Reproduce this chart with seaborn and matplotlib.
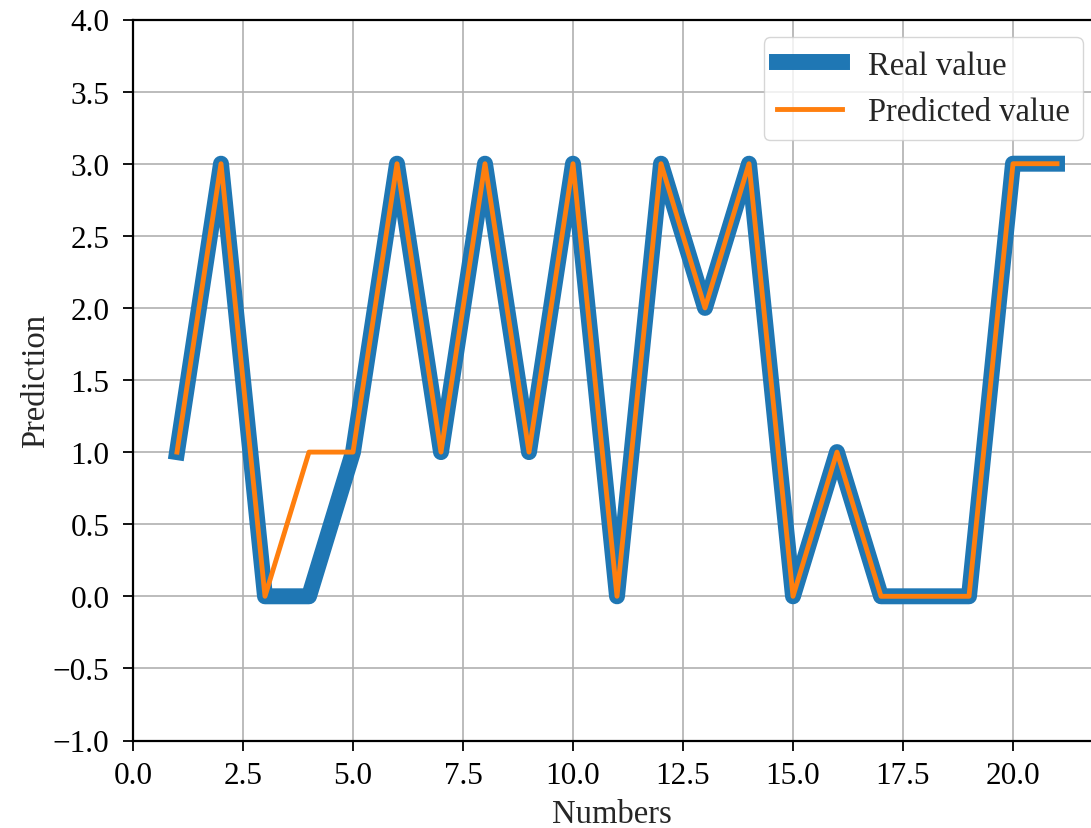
import matplotlib
matplotlib.use("Agg")
import matplotlib.pyplot as plt
import seaborn as sns
import pandas as pd

numbers = list(range(1, 22))
real_value = [1, 3, 0, 0, 1, 3, 1, 3, 1, 3, 0, 3, 2, 3, 0, 1, 0, 0, 0, 3, 3]
predicted_value = [1, 3, 0, 1, 1, 3, 1, 3, 1, 3, 0, 3, 2, 3, 0, 1, 0, 0, 0, 3, 3]
x_ticks = [0.0, 2.5, 5.0, 7.5, 10.0, 12.5, 15.0, 17.5, 20.0]
y_ticks = [-1.0, -0.5, 0.0, 0.5, 1.0, 1.5, 2.0, 2.5, 3.0, 3.5, 4.0]

sns.set_style("white", {"xtick.bottom": True, "ytick.left": True})
plt.rcParams['font.family'] = ['Liberation Serif', 'DejaVu Serif']

df = pd.DataFrame({"Numbers": numbers, "Real value": real_value, "Predicted value": predicted_value})

fig = plt.figure(figsize=(10.91, 8.29), dpi=100)
ax = fig.add_axes([133/1091, (829-741.5)/829, 1 - 133/1091, (741.5-20.5)/829])

sns.lineplot(data=df, x="Numbers", y="Real value", ax=ax, color="#1f77b4", linewidth=11.5,
             label="Real value", solid_capstyle="projecting", solid_joinstyle="round")
sns.lineplot(data=df, x="Numbers", y="Predicted value", ax=ax, color="#ff7f0e", linewidth=3.5,
             label="Predicted value", solid_capstyle="projecting", solid_joinstyle="round")

ax.set_xlim(0, (1091-133)/44.0)
ax.set_ylim(-1.0, 4.0)
ax.set_xticks(x_ticks)
ax.set_xticklabels([f"{t:.1f}" for t in x_ticks])
ax.set_yticks(y_ticks)
ax.set_yticklabels([f"{t:.1f}".replace("-", "\u2212") for t in y_ticks])
ax.grid(True, color="#b0b0b0", linewidth=1.2)
ax.set_axisbelow(True)
ax.tick_params(axis='both', labelsize=22.5, length=7, width=1.3, direction='out', colors='black', pad=8)
ax.tick_params(axis='y', pad=10)
for side in ['left', 'bottom', 'top']:
    ax.spines[side].set_color('black')
    ax.spines[side].set_linewidth(1.6)
ax.spines['right'].set_visible(False)

ax.set_xlabel("Numbers", fontsize=23.5, labelpad=6)
ax.set_ylabel("Prediction", fontsize=23.5, labelpad=1)

leg = ax.legend(loc="upper right", bbox_to_anchor=((1083-133)/958, (741.5-38)/721), borderaxespad=0,
                fontsize=23.5, frameon=True, framealpha=0.8, edgecolor="#cccccc", fancybox=True,
                handlelength=2.0)
for h in leg.get_lines():
    h.set_solid_capstyle("projecting")

fig.savefig("out.png", dpi=100)
